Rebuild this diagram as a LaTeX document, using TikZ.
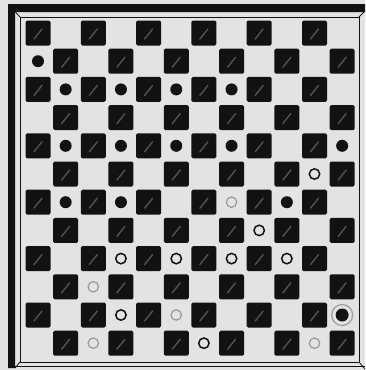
\documentclass[tikz,border=0pt]{standalone}
\usepackage{xcolor}
\usepackage{tikz}

\definecolor{paper}{HTML}{E3E3E3}
\definecolor{ink}{HTML}{121212}

\tikzset{
  darksq/.style={fill=ink, rounded corners=1.5pt},
  glare/.style={draw=black!68, line width=1.4pt, line cap=round},
  blackman/.style={fill=ink},
  whiteman/.style={draw=ink, line width=1.5pt, fill=paper},
  paleman/.style={draw=black!40, line width=1.2pt, fill=paper},
  kingring/.style={draw=black!38, line width=1.3pt},
  rim/.style={draw=ink, line width=0.8pt}
}

\begin{document}
\begin{tikzpicture}[x=1pt,y=-1pt]
  \fill[paper] (0,0) rectangle (365,370);
  \useasboundingbox (0,0) rectangle (365,370);

  % frame
  \fill[ink] (8,4) -- (365,4) -- (365,12) -- (15,12) -- (15,368) -- (8,368) -- cycle;
  \draw[rim] (20,17) rectangle (359,362);
  \draw[rim] (15,366) -- (365,366);
  \draw[rim] (9,5) -- (20,17);
  \draw[rim] (15,368) -- (20,362);
  \draw[rim] (359,362) -- (365,369);
  \draw[rim] (359,17) -- (364,12);

  % squares
  \foreach \r in {1,...,12}
    \foreach \c in {1,...,12}{
      \coordinate (s-\c-\r) at ({38+(\c-1)*27.65},{33+(\r-1)*28.2});
      \pgfmathtruncatemacro\odd{mod(\r+\c,2)}
      \ifnum\odd=0
        \fill[darksq] ([shift={(-12.5,-12.5)}]s-\c-\r) rectangle ++(25,25);
        \draw[glare] ([shift={(-4,6)}]s-\c-\r) -- ++(8,-10);
      \fi
    }

  % black men
  \foreach \c/\r in {1/2, 2/3, 4/3, 6/3, 8/3, 2/5, 4/5, 6/5, 8/5, 12/5, 2/7, 4/7, 10/7}
    \fill[blackman] (s-\c-\r) circle (6);

  % white men
  \foreach \c/\r in {11/6, 9/8, 4/9, 6/9, 8/9, 10/9, 4/11, 7/12}
    \draw[whiteman] (s-\c-\r) circle (5.2);
  \foreach \c/\r in {8/7, 3/10, 6/11, 3/12, 11/12}
    \draw[paleman] (s-\c-\r) circle (5.2);

  % king
  \draw[kingring] (s-12-11) circle (10.5);
  \fill[blackman] (s-12-11) circle (6.5);
\end{tikzpicture}
\end{document}
